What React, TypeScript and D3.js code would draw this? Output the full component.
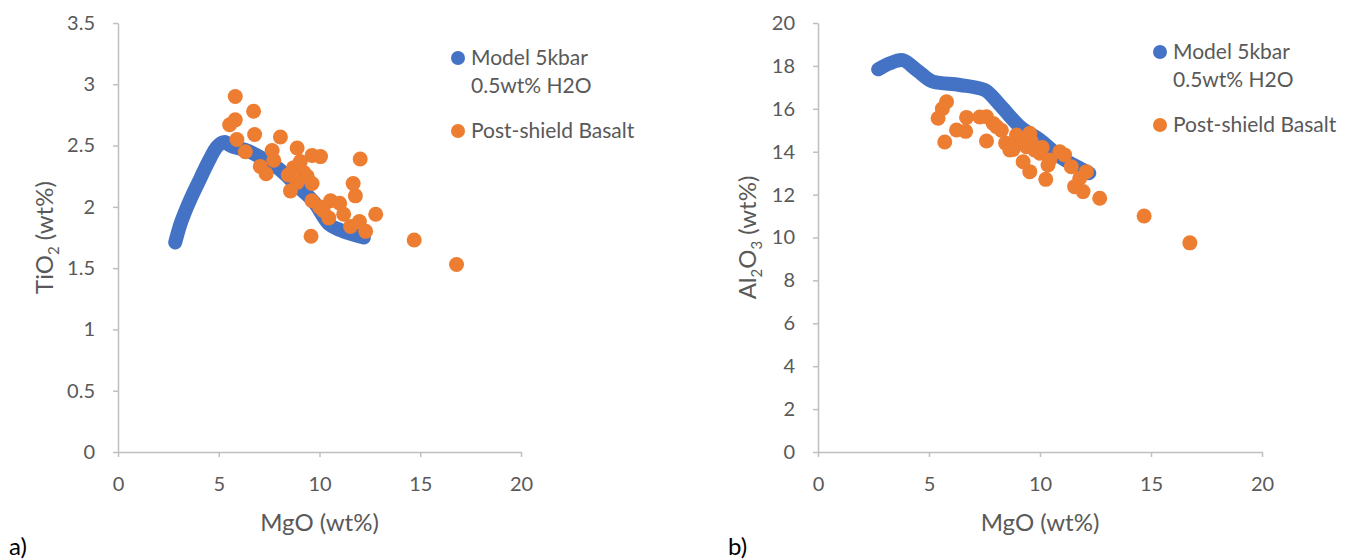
import React, { useEffect, useRef } from 'react'
import * as d3 from 'd3'

// model curve: 5 kbar, 0.5 wt% H2O
const modelMgoA = [2.84, 3.08, 3.33, 3.67, 4.08, 4.49, 4.91, 5.3, 5.57, 6.4, 7.23, 8.06, 8.89, 9.72, 10.46, 11.04, 12.2]
const modelTio2 = [1.71, 1.85, 1.96, 2.09, 2.23, 2.37, 2.49, 2.53, 2.5, 2.46, 2.39, 2.3, 2.17, 2.04, 1.86, 1.81, 1.75]
const modelMgoB = [2.71, 3.24, 3.77, 4.44, 5.19, 6.39, 7.51, 8.19, 9.09, 9.99, 10.89, 11.94, 12.22]
const modelAl2o3 = [17.84, 18.12, 18.27, 17.81, 17.26, 17.11, 16.88, 16.18, 15.17, 14.55, 13.77, 13.15, 13.0]

// post-shield basalt samples
const basaltMgoA = [5.82, 6.73, 5.54, 5.82, 5.9, 6.78, 6.32, 8.06, 7.65, 7.73, 7.06, 7.35, 8.89, 9.63, 10.05, 9.05, 8.72, 8.45, 9.22, 9.39, 9.63, 8.89, 8.56, 12.02, 11.67, 11.78, 12.79, 9.63, 10.0, 10.55, 11.0, 10.46, 11.2, 11.54, 11.98, 12.29, 9.58, 10.18, 14.7, 16.8]
const basaltTio2 = [2.9, 2.78, 2.67, 2.71, 2.55, 2.59, 2.45, 2.57, 2.46, 2.38, 2.33, 2.27, 2.48, 2.42, 2.41, 2.37, 2.32, 2.26, 2.28, 2.25, 2.19, 2.2, 2.13, 2.39, 2.19, 2.09, 1.94, 2.05, 2.0, 2.05, 2.03, 1.91, 1.94, 1.84, 1.88, 1.8, 1.76, 1.97, 1.73, 1.53]
const basaltMgoB = [5.79, 5.6, 5.41, 5.71, 6.24, 6.65, 6.69, 7.29, 7.59, 7.59, 7.89, 8.04, 8.26, 8.45, 8.64, 8.79, 8.94, 9.1, 9.24, 9.39, 9.54, 9.6, 9.54, 9.76, 9.99, 10.1, 10.36, 10.44, 10.89, 11.11, 10.26, 11.41, 12.09, 11.79, 11.56, 11.94, 12.69, 14.69, 16.75]
const basaltAl2o3 = [16.33, 16.0, 15.56, 14.45, 15.01, 14.95, 15.6, 15.62, 15.63, 14.5, 15.32, 15.17, 15.0, 14.4, 14.08, 14.1, 14.78, 14.5, 13.53, 14.23, 14.86, 14.5, 13.07, 14.08, 13.93, 14.2, 13.38, 13.61, 14.0, 13.85, 12.71, 13.3, 13.07, 12.76, 12.37, 12.14, 11.83, 11.0, 9.75]

const xTicks = [0, 5, 10, 15, 20]
const yTicksA = [0, 0.5, 1, 1.5, 2, 2.5, 3, 3.5]
const yTicksB = [0, 2, 4, 6, 8, 10, 12, 14, 16, 18, 20]

const modelName = ['Model 5kbar', '0.5wt% H2O']
const basaltName = 'Post-shield Basalt'

const BLUE = '#4472C4'
const ORANGE = '#ED7D31'
const AXIS = '#BFBFBF'
const TEXT = '#595959'
const FONT = 'Lato, "Open Sans", sans-serif'

interface Panel {
  left: number
  right: number
  top: number
  bottom: number
  yTicks: number[]
  modelX: number[]
  modelY: number[]
  dataX: number[]
  dataY: number[]
  yTitle: { t: string; sub?: boolean }[]
  yTitleX: number
  tag: string
  tagX: number
  legendX: number
  legendY: number
}

const panels: Panel[] = [
  {
    left: 118, right: 521, top: 23, bottom: 452,
    yTicks: yTicksA,
    modelX: modelMgoA, modelY: modelTio2,
    dataX: basaltMgoA, dataY: basaltTio2,
    yTitle: [{ t: 'TiO' }, { t: '2', sub: true }, { t: ' (wt%)' }],
    yTitleX: 53,
    tag: 'a)', tagX: 9,
    legendX: 458, legendY: 58,
  },
  {
    left: 818, right: 1262, top: 23, bottom: 452,
    yTicks: yTicksB,
    modelX: modelMgoB, modelY: modelAl2o3,
    dataX: basaltMgoB, dataY: basaltAl2o3,
    yTitle: [{ t: 'Al' }, { t: '2', sub: true }, { t: 'O' }, { t: '3', sub: true }, { t: ' (wt%)' }],
    yTitleX: 756,
    tag: 'b)', tagX: 728,
    legendX: 1160, legendY: 52,
  },
]

function drawPanel(svg: d3.Selection<SVGSVGElement, unknown, null, undefined>, p: Panel) {
  const x = d3.scaleLinear().domain([0, 20]).range([p.left, p.right])
  const yMax = p.yTicks[p.yTicks.length - 1]
  const y = d3.scaleLinear().domain([0, yMax]).range([p.bottom, p.top])

  const g = svg.append('g')

  const xAxis = g.append('g')
    .attr('transform', `translate(0,${p.bottom})`)
    .call(d3.axisBottom(x).tickValues(xTicks).tickSize(5).tickSizeOuter(0).tickPadding(20).tickFormat(d => String(d)))
  const yAxis = g.append('g')
    .attr('transform', `translate(${p.left},0)`)
    .call(d3.axisLeft(y).tickValues(p.yTicks).tickSize(5).tickSizeOuter(0).tickPadding(18).tickFormat(d => String(d)))

  for (const ax of [xAxis, yAxis]) {
    ax.select('.domain').attr('stroke', AXIS).attr('stroke-width', 1.5)
    ax.selectAll('.tick line').attr('stroke', AXIS).attr('stroke-width', 1.5)
    ax.selectAll('.tick text')
      .attr('fill', TEXT)
      .style('font-family', FONT)
      .style('font-size', '20px')
  }

  // model curve
  const line = d3.line<number>()
    .x((_, i) => x(p.modelX[i]))
    .y(d => y(d))
    .curve(d3.curveMonotoneX)
  g.append('path')
    .attr('d', line(p.modelY))
    .attr('fill', 'none')
    .attr('stroke', BLUE)
    .attr('stroke-width', 14)
    .attr('stroke-linecap', 'round')
    .attr('stroke-linejoin', 'round')

  g.append('g')
    .selectAll('circle')
    .data(p.dataY)
    .join('circle')
    .attr('cx', (_, i) => x(p.dataX[i]))
    .attr('cy', d => y(d))
    .attr('r', 7.5)
    .attr('fill', ORANGE)

  // axis titles
  g.append('text')
    .attr('x', (p.left + p.right) / 2)
    .attr('y', 531)
    .attr('text-anchor', 'middle')
    .attr('fill', TEXT)
    .style('font-family', FONT)
    .style('font-size', '24px')
    .text('MgO (wt%)')

  const yt = g.append('text')
    .attr('transform', `translate(${p.yTitleX},${(p.top + p.bottom) / 2}) rotate(-90)`)
    .attr('text-anchor', 'middle')
    .attr('fill', TEXT)
    .style('font-family', FONT)
    .style('font-size', '24px')
  let shift = 0
  p.yTitle.forEach(part => {
    const want = part.sub ? 6 : 0
    yt.append('tspan')
      .attr('dy', want - shift)
      .style('font-size', part.sub ? '15px' : '24px')
      .text(part.t)
    shift = want
  })

  g.append('text')
    .attr('x', p.tagX)
    .attr('y', 555)
    .attr('fill', '#000')
    .style('font-family', FONT)
    .style('font-size', '24px')
    .text(p.tag)

  // legend
  const lg = g.append('g').attr('transform', `translate(${p.legendX},${p.legendY})`)
  const lt = (yy: number, s: string) => lg.append('text')
    .attr('x', 13)
    .attr('y', yy + 7)
    .attr('fill', TEXT)
    .style('font-family', FONT)
    .style('font-size', '21px')
    .text(s)
  lg.append('circle').attr('cx', 0).attr('cy', 0).attr('r', 7).attr('fill', BLUE)
  lt(0, modelName[0])
  lt(28, modelName[1])
  lg.append('circle').attr('cx', 0).attr('cy', 73).attr('r', 7).attr('fill', ORANGE)
  lt(73, basaltName)
}

const App: React.FC = () => {
  const svgRef = useRef<SVGSVGElement | null>(null)

  useEffect(() => {
    if (!svgRef.current) return
    const svg = d3.select(svgRef.current)
    svg.selectAll('*').remove()
    panels.forEach(p => drawPanel(svg, p))
  }, [])

  return (
    <div style={{ position: 'absolute', left: 0, top: 0, background: '#fff' }}>
      <svg ref={svgRef} width={1350} height={560} />
    </div>
  )
}

export default App
